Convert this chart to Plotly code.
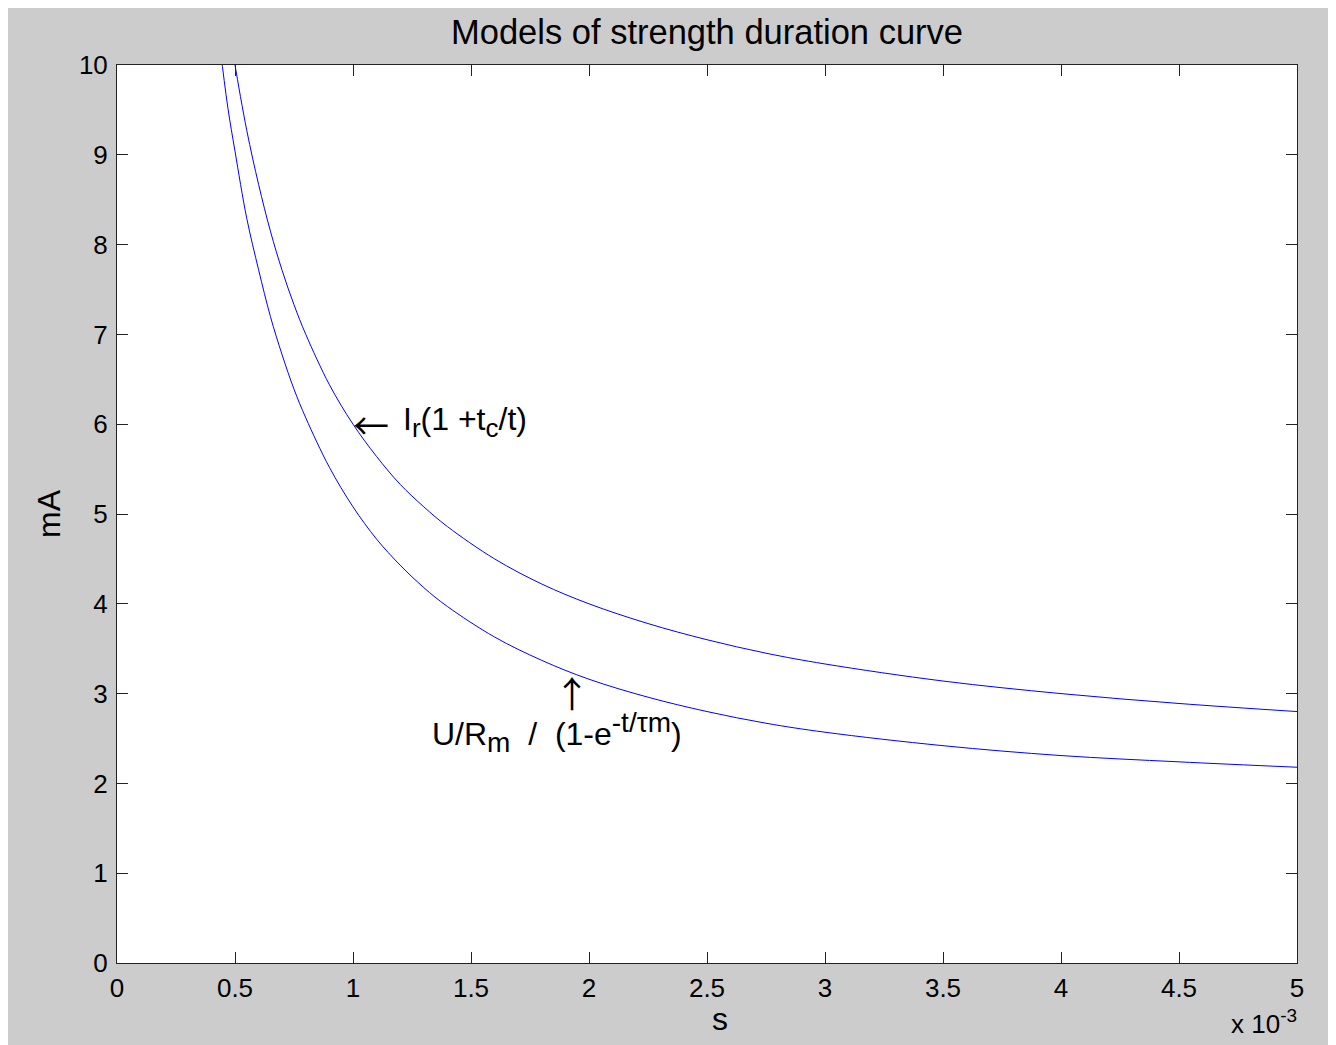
import plotly.graph_objects as go

# time in ms (axis shows x 10^-3 s)
t_upper = [0.48, 0.5, 0.55, 0.6, 0.65, 0.7, 0.75, 0.8, 0.9, 1.0, 1.1, 1.2, 1.3, 1.4, 1.6, 1.8, 2.0,
           2.25, 2.5, 2.75, 3.0, 3.5, 4.0, 4.5, 5.0]
i_upper = [10.33, 10.0, 9.27, 8.67, 8.15, 7.71, 7.33, 7.0, 6.44, 6.0, 5.64, 5.33, 5.08, 4.86, 4.5, 4.22, 4.0,
           3.78, 3.6, 3.45, 3.33, 3.14, 3.0, 2.89, 2.8]

t_lower = [0.42, 0.44, 0.47, 0.5, 0.55, 0.6, 0.65, 0.7, 0.75, 0.8, 0.9, 1.0, 1.1, 1.2, 1.3, 1.4, 1.6, 1.8, 2.0,
           2.25, 2.5, 2.75, 3.0, 3.5, 4.0, 4.5, 5.0]
i_lower = [10.6, 10.13, 9.52, 9.04, 8.29, 7.72, 7.2, 6.77, 6.39, 6.07, 5.52, 5.08, 4.72, 4.43, 4.18, 3.97,
           3.63, 3.37, 3.16, 2.96, 2.80, 2.67, 2.57, 2.42, 2.31, 2.24, 2.18]

x_ticks = [0, 0.5, 1, 1.5, 2, 2.5, 3, 3.5, 4, 4.5, 5]
x_ticklabels = ["0", "0.5", "1", "1.5", "2", "2.5", "3", "3.5", "4", "4.5", "5"]
y_ticks = [0, 1, 2, 3, 4, 5, 6, 7, 8, 9, 10]

FONT = "Liberation Sans, Arial, sans-serif"
ARROWFONT = "Noto Sans CJK SC, DejaVu Sans, sans-serif"
GRAY = "#cccccc"
NB = "\u00a0"

fig = go.Figure()
for tx, iy in [(t_upper, i_upper), (t_lower, i_lower)]:
    fig.add_trace(go.Scatter(x=tx, y=iy, mode="lines", line=dict(color="#0000ff", width=1, shape="spline"),
                             showlegend=False, hoverinfo="skip"))

# page is offset by the 8px body margin
W, H = 1328, 1037
L, R, T, B = 109, 39, 57, 82
pw, ph = W - L - R, H - T - B

axis_common = dict(showgrid=False, zeroline=False, showline=True, linecolor="#222222", linewidth=1,
                   mirror="ticks", ticks="inside", ticklen=11, tickcolor="#222222", tickwidth=1,
                   tickfont=dict(family=FONT, size=26, color="black"))


def sub(s, px):
    return f"<sub><span style='font-size:{px}px'>{s}</span></sub>"


def sup(s, px):
    return f"<sup><span style='font-size:{px}px'>{s}</span></sup>"


fig.update_layout(
    width=W, height=H,
    margin=dict(l=L, r=R, t=T, b=B),
    paper_bgcolor=GRAY, plot_bgcolor="white",
    title=dict(text="Models of strength duration curve", x=(L + pw / 2) / W, xanchor="center",
               y=1 - 24 / H, yanchor="middle", font=dict(family=FONT, size=34.5, color="black")),
    xaxis=dict(range=[0, 5], tickvals=x_ticks, ticktext=x_ticklabels, ticklabelstandoff=2, **axis_common),
    yaxis=dict(range=[0, 10], tickvals=y_ticks, ticklabelstandoff=3, **axis_common,
               title=dict(text="mA", font=dict(family=FONT, size=32, color="black"), standoff=8)),
    annotations=[
        dict(x=0.5, y=-56 / ph, xref="paper", yref="paper", xanchor="center", yanchor="middle", showarrow=False,
             text="s", font=dict(family=FONT, size=32, color="black"), xshift=13),
        dict(x=1.0, y=6.0, xref="x", yref="y", xanchor="left", yanchor="middle", showarrow=False,
             text="\u2190", font=dict(family=ARROWFONT, size=36, color="black"), xshift=-2),
        dict(x=1.0, y=6.0, xref="x", yref="y", xanchor="left", yanchor="middle", showarrow=False,
             text="I" + sub("r", 26) + "(1 +t" + sub("c", 26) + "/t)", font=dict(family=FONT, size=32, color="black"),
             xshift=48, yshift=2),
        dict(x=1.93, y=3.2, xref="x", yref="y", xanchor="center", yanchor="top", showarrow=False,
             text="\u2191", font=dict(family=ARROWFONT, size=36, color="black"), yshift=12),
        dict(x=1.284, y=2.5, xref="x", yref="y", xanchor="left", yanchor="middle", showarrow=False,
             text="U/R" + sub("m", 28) + NB + " /" + NB + " (1-e" + sup("-t/\u03c4m", 28) + ")",
             font=dict(family=FONT, size=32, color="black"), xshift=10, yshift=6),
        dict(x=1.0, y=-(1022 - 963) / ph, xref="paper", yref="paper", xanchor="right", yanchor="middle",
             showarrow=False, text="x 10" + sup("-3", 19), font=dict(family=FONT, size=26, color="black"), xshift=2),
    ],
)

fig.write_html("out.html")
